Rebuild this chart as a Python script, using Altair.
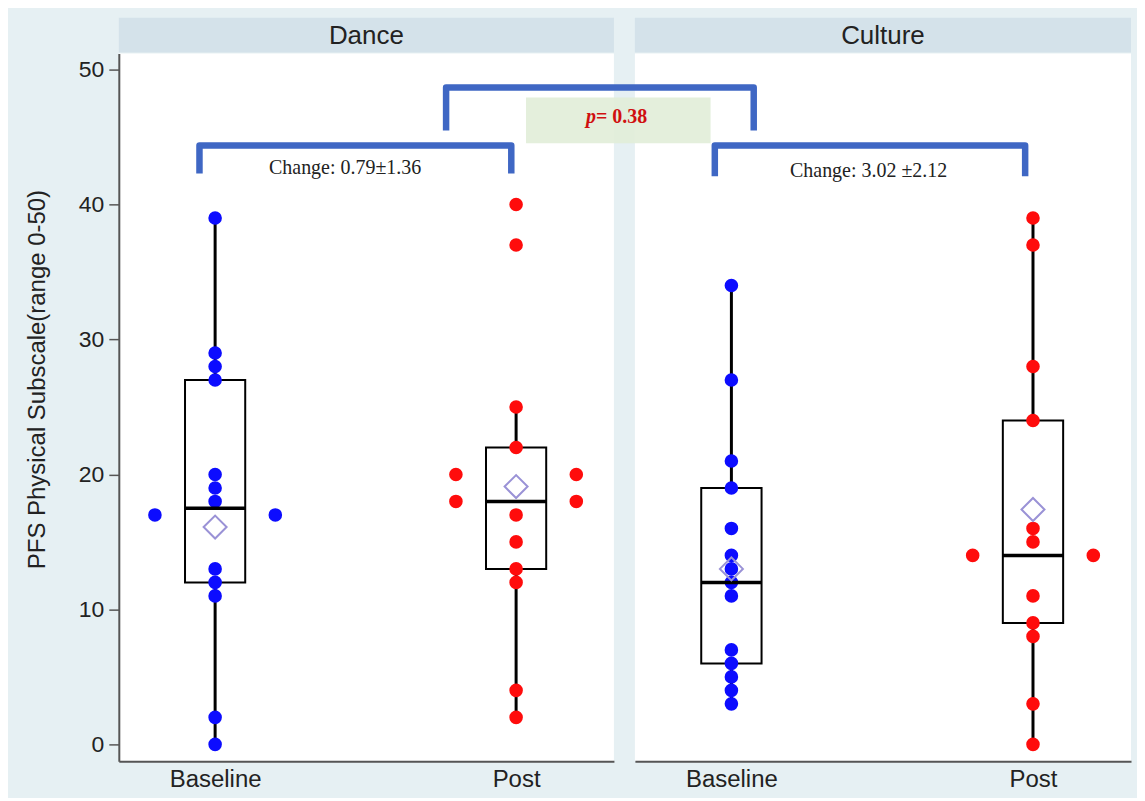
import altair as alt
import pandas as pd
from collections import Counter

# ---------------- data ----------------
groups = ["Dance", "Culture"]
times = ["Baseline", "Post"]

dance_baseline = [39, 29, 28, 27, 20, 19, 18, 17, 17, 13, 12, 11, 2, 0]
dance_post = [40, 37, 25, 22, 20, 20, 18, 18, 17, 15, 13, 12, 4, 2]
culture_baseline = [34, 27, 21, 19, 16, 14, 13, 12, 11, 7, 6, 5, 4, 3]
culture_post = [39, 37, 28, 24, 16, 15, 14, 14, 11, 9, 8, 3, 0]

# box statistics in order: Dance/Baseline, Dance/Post, Culture/Baseline, Culture/Post
box_group = ["Dance", "Dance", "Culture", "Culture"]
box_time = ["Baseline", "Post", "Baseline", "Post"]
box_q1 = [12, 13, 6, 9]
box_median = [17.5, 18, 12, 14]
box_q3 = [27, 22, 19, 24]
whisker_low = [0, 2, 3, 0]
whisker_high = [39, 25, 34, 39]
group_mean = [16.1, 19.1, 13.0, 17.4]

change_text = ["Change: 0.79\u00b11.36", "Change: 3.02 \u00b12.12"]
p_label = "p"
p_value_text = "= 0.38"

y_ticks = [0, 10, 20, 30, 40, 50]
y_title = "PFS Physical Subscale(range 0-50)"

# ---------------- styling / layout constants ----------------
W1, W2, H = 496, 497, 709
X_DOM = [0.68, 2.325]
Y_DOM = [-1.26, 51.18]
BOX_HALF = 0.1
TIE_SPREAD = 0.2
BG = "#e6f0f3"
STRIP = "#d4e2ea"
BRACKET = "#3f67c4"
FONT = "Liberation Sans"
SERIF = "Liberation Serif"

# ---------------- build tables ----------------
series = {
    ("Dance", "Baseline"): dance_baseline,
    ("Dance", "Post"): dance_post,
    ("Culture", "Baseline"): culture_baseline,
    ("Culture", "Post"): culture_post,
}
rows = []
for (g, t), vals in series.items():
    pos = times.index(t) + 1
    cnt = Counter(vals)
    seen = Counter()
    for v in vals:
        c = cnt[v]
        k = seen[v]
        seen[v] += 1
        off = 0.0 if c == 1 else -TIE_SPREAD + 2 * TIE_SPREAD * k / (c - 1)
        rows.append({"group": g, "time": t, "x": pos + off, "value": v})
points = pd.DataFrame(rows)

stats = pd.DataFrame({
    "group": box_group, "time": box_time,
    "q1": box_q1, "median": box_median, "q3": box_q3,
    "lo": whisker_low, "hi": whisker_high, "mean": group_mean,
})
stats["pos"] = [times.index(t) + 1 for t in stats["time"]]
stats["xl"] = stats["pos"] - BOX_HALF
stats["xr"] = stats["pos"] + BOX_HALF

xs = alt.Scale(domain=X_DOM, nice=False, zero=False)
ys = alt.Scale(domain=Y_DOM, nice=False, zero=False)


def bracket(x1, x2, ytop, yleg, name):
    return pd.DataFrame({
        "b": [name] * 4, "o": [0, 1, 2, 3],
        "x": [x1, x1, x2, x2], "y": [yleg, ytop, ytop, yleg],
    })


def panel(g, width, show_y, extra_layers):
    pts = points[points.group == g]
    st = stats[stats.group == g]
    xaxis = alt.Axis(values=[1, 2], labelExpr="datum.value == 1 ? 'Baseline' : 'Post'",
                     ticks=False, grid=False, domainColor="#555", domainWidth=2,
                     labelFontSize=24, labelPadding=6, labelColor="#222", labelFont=FONT,
                     title=None)
    if show_y:
        yaxis = alt.Axis(values=y_ticks, grid=False, domainColor="#555", domainWidth=2,
                         tickColor="#555", tickWidth=1.5, tickSize=10,
                         labelFontSize=23, labelPadding=5, labelColor="#222", labelFont=FONT,
                         title=y_title, titleFontSize=24, titleFontWeight="normal",
                         titleColor="#222", titleFont=FONT, titleX=-81, titleY=326,
                         titleAngle=270, titleAlign="center", titleBaseline="middle")
    else:
        yaxis = None

    header_df = pd.DataFrame({"label": [g]})
    strip = alt.Chart(header_df).mark_rect(color=STRIP).encode(
        x=alt.value(0), x2=alt.value(width), y=alt.value(-36), y2=alt.value(-1))
    strip_text = alt.Chart(header_df).mark_text(fontSize=26, font=FONT, color="#222",
                                                baseline="middle").encode(
        x=alt.value(width / 2), y=alt.value(-18), text="label:N")

    base = alt.Chart(st)
    wl = base.mark_rule(color="black", strokeWidth=3).encode(
        x=alt.X("pos:Q", scale=xs, axis=xaxis), y=alt.Y("lo:Q", scale=ys, axis=yaxis), y2="q1:Q")
    wh = base.mark_rule(color="black", strokeWidth=3).encode(
        x=alt.X("pos:Q", scale=xs), y=alt.Y("q3:Q", scale=ys), y2="hi:Q")
    box = base.mark_rect(fill="white", stroke="black", strokeWidth=2).encode(
        x=alt.X("xl:Q", scale=xs), x2="xr:Q", y=alt.Y("q1:Q", scale=ys), y2="q3:Q")
    dots = alt.Chart(pts).mark_circle(size=185, opacity=1).encode(
        x=alt.X("x:Q", scale=xs), y=alt.Y("value:Q", scale=ys),
        color=alt.Color("time:N", scale=alt.Scale(domain=times, range=["#0c0cff", "#ff0c0c"]),
                        legend=None))
    med = base.mark_rule(color="black", strokeWidth=3.5).encode(
        x=alt.X("xl:Q", scale=xs), x2="xr:Q", y=alt.Y("median:Q", scale=ys))
    mean = base.mark_point(shape="diamond", size=530, filled=False, color="#9a92d6",
                           strokeWidth=2, opacity=1).encode(
        x=alt.X("pos:Q", scale=xs), y=alt.Y("mean:Q", scale=ys))

    layers = [wl, wh, box, dots, med, mean, strip, strip_text] + extra_layers
    return alt.layer(*layers).properties(width=width, height=H)


# Dance annotations
dance_br = alt.Chart(bracket(0.948, 1.984, 44.38, 42.3, "d")).mark_line(
    color=BRACKET, strokeWidth=6.5, strokeJoin="round").encode(
    x=alt.X("x:Q", scale=xs), y=alt.Y("y:Q", scale=ys), order="o:Q", detail="b:N")
dance_txt = alt.Chart(pd.DataFrame({"t": [change_text[0]], "x": [1.432], "y": [42.68]})).mark_text(
    font=SERIF, fontSize=20, color="#222", baseline="middle").encode(
    x=alt.X("x:Q", scale=xs), y=alt.Y("y:Q", scale=ys), text="t:N")

# Culture annotations (the top bracket and p-box reach back over the Dance panel)
cult_br = alt.Chart(pd.concat([bracket(0.945, 1.974, 44.38, 42.09, "c"),
                               bracket(0.054, 1.074, 48.67, 45.49, "top")])).mark_line(
    color=BRACKET, strokeWidth=6.5, strokeJoin="round").encode(
    x=alt.X("x:Q", scale=xs), y=alt.Y("y:Q", scale=ys), order="o:Q", detail="b:N")
cult_txt = alt.Chart(pd.DataFrame({"t": [change_text[1]], "x": [1.455], "y": [42.5]})).mark_text(
    font=SERIF, fontSize=20, color="#222", baseline="middle").encode(
    x=alt.X("x:Q", scale=xs), y=alt.Y("y:Q", scale=ys), text="t:N")
pbox = alt.Chart(pd.DataFrame({"x1": [0.319], "x2": [0.931], "y1": [44.53], "y2": [47.93]})).mark_rect(
    color="#e2eed9", opacity=0.92).encode(
    x=alt.X("x1:Q", scale=xs), x2="x2:Q", y=alt.Y("y1:Q", scale=ys), y2="y2:Q")
p_df = pd.DataFrame({"p": [p_label], "v": [p_value_text], "x": [0.551], "y": [46.45]})
p_it = alt.Chart(p_df).mark_text(font=SERIF, fontSize=20, fontStyle="italic", fontWeight="bold",
                                 color="#d01010", align="right", baseline="middle").encode(
    x=alt.X("x:Q", scale=xs), y=alt.Y("y:Q", scale=ys), text="p:N")
p_val = alt.Chart(p_df).mark_text(font=SERIF, fontSize=20, fontWeight="bold",
                                  color="#d01010", align="left", baseline="middle").encode(
    x=alt.X("x:Q", scale=xs), y=alt.Y("y:Q", scale=ys), text="v:N")

dance = panel("Dance", W1, True, [dance_br, dance_txt])
culture = panel("Culture", W2, False, [pbox, cult_br, cult_txt, p_it, p_val])

chart = alt.hconcat(dance, culture, spacing=21, bounds="flush").properties(
    background=BG,
    padding={"left": 18, "top": 9, "right": 6, "bottom": 6},
).configure_view(fill="white", strokeWidth=0)

chart.save("out.html", embed_options={"renderer": "svg", "actions": False})
